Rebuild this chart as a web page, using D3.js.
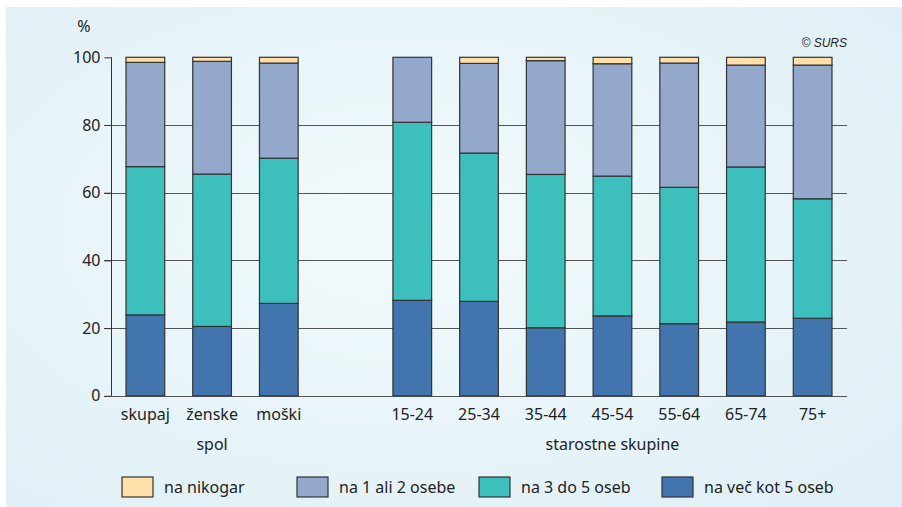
<!DOCTYPE html>
<html><head><meta charset="utf-8">
<script src="https://cdn.jsdelivr.net/npm/d3@7"></script>
<style>
html,body{margin:0;padding:0;background:#fff;}
svg{display:block;font-family:"Noto Sans","Open Sans",sans-serif;}
</style></head>
<body><svg id="c" width="902" height="507"></svg>
<script>
const categories = ["skupaj","ženske","moški","15-24","25-34","35-44","45-54","55-64","65-74","75+"];
const groups = ["spol","spol","spol","starostne skupine","starostne skupine","starostne skupine","starostne skupine","starostne skupine","starostne skupine","starostne skupine"];
const seriesNames = ["na več kot 5 oseb","na 3 do 5 oseb","na 1 ali 2 osebe","na nikogar"];
const vecKot5 = [23.9,20.5,27.3,28.2,27.9,20.1,23.6,21.3,21.8,22.9];
const tri5    = [43.8,45.0,42.9,52.6,43.8,45.3,41.3,40.3,45.8,35.3];
const ena2    = [30.8,33.3,28.1,19.2,26.5,33.6,33.2,36.7,30.1,39.5];
const nikogar = [1.5,1.2,1.7,0.0,1.8,1.0,1.9,1.7,2.3,2.3];
const yTicks = [0,20,40,60,80,100];
const colors = ["#4274ad","#3dbfbd","#93a8cb","#ffdfa8"];

const svg = d3.select("#c");
const defs = svg.append("defs");
const rg = defs.append("radialGradient").attr("id","bg").attr("cx","45%").attr("cy","45%").attr("r","70%");
rg.append("stop").attr("offset","0%").attr("stop-color","#f2fafc");
rg.append("stop").attr("offset","100%").attr("stop-color","#e0f0f6");
svg.append("rect").attr("x",6).attr("y",7).attr("width",896).attr("height",500).attr("fill","url(#bg)");

const slots = ["skupaj","ženske","moški","__gap","15-24","25-34","35-44","45-54","55-64","65-74","75+"];
const x = d3.scaleBand().domain(slots).range([111,847]).paddingInner(0.42).paddingOuter(0.225);
const y = d3.scaleLinear().domain([0,100]).range([395.8,57.3]);

// gridlines
svg.append("g").selectAll("line").data(yTicks.filter(t=>t<100)).join("line")
  .attr("x1",104).attr("x2",847).attr("y1",d=>Math.round(y(d))+0.5).attr("y2",d=>Math.round(y(d))+0.5)
  .attr("stroke","#555").attr("stroke-width",1.2);

// y axis
const yAxis = d3.axisLeft(y).tickValues(yTicks).tickSize(7).tickPadding(4);
const gy = svg.append("g").attr("transform","translate(111.5,0)").call(yAxis);
gy.select(".domain").attr("stroke","#333").attr("d","M0,"+y(100)+"V"+y(0));
gy.selectAll(".tick line").attr("stroke","#333");
gy.selectAll(".tick text").attr("font-size",16).attr("fill","#222").attr("font-family","Noto Sans, sans-serif");

svg.append("text").attr("x",84).attr("y",32).attr("text-anchor","middle").attr("font-size",16).attr("fill","#222").text("%");
svg.append("text").attr("x",847).attr("y",47).attr("text-anchor","end").attr("font-size",12)
  .attr("font-style","italic").attr("font-family","Liberation Sans, Arial, sans-serif").attr("fill","#222").text("© SURS");

// stacked data
const rows = categories.map((c,i)=>({cat:c, s0:vecKot5[i], s1:tri5[i], s2:ena2[i], s3:nikogar[i]}));
const stack = d3.stack().keys(["s0","s1","s2","s3"])(rows);
svg.append("g").selectAll("g").data(stack).join("g").attr("fill",(d,i)=>colors[i])
  .selectAll("rect").data(d=>d).join("rect")
  .attr("x",d=>x(d.data.cat)).attr("width",x.bandwidth())
  .attr("y",d=>y(d[1])).attr("height",d=>Math.max(0,y(d[0])-y(d[1])))
  .attr("stroke","#333").attr("stroke-width",1.2);

// category labels
svg.append("g").selectAll("text").data(categories).join("text")
  .attr("x",d=>x(d)+x.bandwidth()/2).attr("y",420).attr("text-anchor","middle")
  .attr("font-size",16).attr("fill","#222").text(d=>d);

// group labels
const groupNames = Array.from(new Set(groups));
svg.append("g").selectAll("text").data(groupNames).join("text")
  .attr("x",g=>{const cs=categories.filter((c,i)=>groups[i]===g);return (x(cs[0])+x(cs[cs.length-1])+x.bandwidth())/2;})
  .attr("y",450).attr("text-anchor","middle").attr("font-size",16).attr("fill","#222").text(g=>g);

// legend
const legendOrder = [3,2,1,0];
const legendX = [122,297,479,662];
const lg = svg.append("g").selectAll("g").data(legendOrder).join("g")
  .attr("transform",(d,i)=>`translate(${legendX[i]},477)`);
lg.append("rect").attr("width",31).attr("height",20).attr("fill",d=>colors[d]).attr("stroke","#333").attr("stroke-width",1.2);
lg.append("text").attr("x",42).attr("y",16).attr("font-size",16).attr("fill","#222").text(d=>seriesNames[d]);
</script></body></html>
